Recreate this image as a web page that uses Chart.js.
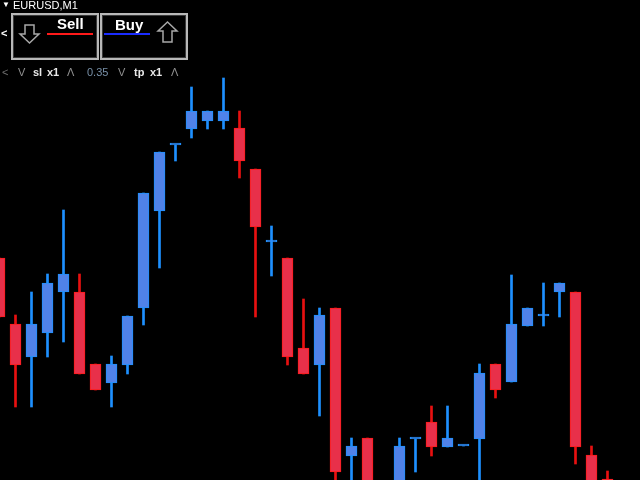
<!DOCTYPE html>
<html>
<head>
<meta charset="utf-8">
<script src="https://cdn.jsdelivr.net/npm/chart.js@4"></script>
<style>
  html, body { margin: 0; padding: 0; background: #000; }
  #wrap { position: relative; width: 640px; height: 480px; overflow: hidden; background: #000; }
  #c { position: absolute; left: 0; top: 0; }
  .t { position: absolute; font-family: "Liberation Sans", Arial, sans-serif; white-space: nowrap; line-height: 1; }
  .box { position: absolute; box-sizing: border-box; border: 2px solid #b8b8b8; box-shadow: inset 0 0 0 1px #3a3a3a; background: #000; }
</style>
</head>
<body>
<div id="wrap">
  <canvas id="c" width="640" height="480"></canvas>

  <div class="t" style="left:2px;top:1px;font-size:8px;color:#fff;">&#9660;</div>
  <div class="t" style="left:13px;top:0px;font-size:11px;color:#fff;">EURUSD,M1</div>

  <div class="t" style="left:1px;top:28px;font-size:11px;color:#fff;font-weight:bold;">&lt;</div>

  <div class="box" style="left:11px;top:13px;width:88px;height:47px;"></div>
  <div class="box" style="left:100px;top:13px;width:88px;height:47px;"></div>

  <svg style="position:absolute;left:0;top:0;" width="200" height="60">
    <polygon points="25,25 34,25 34,34 39,34 29.5,43 20,34 25,34" fill="none" stroke="#a8a8a8" stroke-width="1.5"/>
    <polygon points="167.5,22 177,31 172,31 172,42 163,42 163,31 158,31" fill="none" stroke="#a8a8a8" stroke-width="1.5"/>
    <line x1="47" y1="34" x2="93" y2="34" stroke="#ff1a1a" stroke-width="2"/>
    <line x1="104" y1="34" x2="150" y2="34" stroke="#1a2cff" stroke-width="2"/>
  </svg>
  <div class="t" style="left:57px;top:16px;font-size:15px;color:#fff;font-weight:bold;">Sell</div>
  <div class="t" style="left:115px;top:17px;font-size:15px;color:#fff;font-weight:bold;">Buy</div>

  <div class="t" style="left:2px;top:67px;font-size:11px;color:#707070;">&lt;</div>
  <div class="t" style="left:18px;top:67px;font-size:11px;color:#909090;">V</div>
  <div class="t" style="left:33px;top:67px;font-size:11px;color:#e8e8e8;font-weight:bold;">sl</div>
  <div class="t" style="left:47px;top:67px;font-size:11px;color:#e8e8e8;font-weight:bold;">x1</div>
  <div class="t" style="left:67px;top:67px;font-size:11px;color:#909090;">&Lambda;</div>
  <div class="t" style="left:87px;top:67px;font-size:11px;color:#7890a8;">0.35</div>
  <div class="t" style="left:118px;top:67px;font-size:11px;color:#909090;">V</div>
  <div class="t" style="left:134px;top:67px;font-size:11px;color:#e8e8e8;font-weight:bold;">tp</div>
  <div class="t" style="left:150px;top:67px;font-size:11px;color:#e8e8e8;font-weight:bold;">x1</div>
  <div class="t" style="left:171px;top:67px;font-size:11px;color:#909090;">&Lambda;</div>
</div>

<script>
// Candle index (bar number), oldest on the left
const bars   = [0,1,2,3,4,5,6,7,8,9,10,11,12,13,14,15,16,17,18,19,20,21,22,23,24,25,26,27,28,29,30,31,32,33,34,35,36,37,38];
const opens  = [1.08222,1.08156,1.08123,1.08147,1.08188,1.08188,1.08116,1.08097,1.08115,1.08172,1.08269,1.08335,1.08351,1.08359,1.08359,1.08352,1.08311,1.08238,1.08222,1.08132,1.08115,1.08172,1.08024,1.08042,null,1.07985,1.08041,1.08058,1.08033,1.08034,1.08041,1.08116,1.08098,1.08154,1.08164,1.08188,1.08188,1.08025,1.08001];
const highs  = [1.08222,1.08165,1.08188,1.08206,1.08270,1.08206,1.08116,1.08124,1.08164,1.08287,1.08328,1.08335,1.08393,1.08369,1.08402,1.08369,1.08311,1.08254,1.08222,1.08181,1.08172,1.08172,1.08042,1.08042,null,1.08042,1.08041,1.08074,1.08074,1.08034,1.08116,1.08116,1.08205,1.08172,1.08197,1.08197,1.08188,1.08034,1.08009];
const lows   = [1.08163,1.08073,1.08073,1.08123,1.08138,1.08106,1.08090,1.08073,1.08106,1.08155,1.08212,1.08319,1.08342,1.08351,1.08351,1.08302,1.08163,1.08204,1.08115,1.08106,1.08064,1.07990,1.07990,1.07985,null,1.07980,1.08008,1.08024,1.08033,1.08034,1.07990,1.08082,1.08098,1.08154,1.08154,1.08163,1.08016,1.07990,1.07990];
const closes = [1.08163,1.08115,1.08156,1.08197,1.08206,1.08106,1.08090,1.08116,1.08164,1.08287,1.08328,1.08335,1.08369,1.08369,1.08369,1.08319,1.08253,1.08238,1.08123,1.08106,1.08165,1.08008,1.08034,1.07985,null,1.08034,1.08041,1.08033,1.08042,1.08034,1.08107,1.08090,1.08156,1.08172,1.08164,1.08197,1.08033,1.07990,1.07990];

const UP_FILL = '#5082e8', UP_EDGE = '#1e90ff', UP_WICK = '#1e90ff';
const DN_FILL = '#e8304a', DN_EDGE = '#ff1a1a', DN_WICK = '#e81010';

const bodyData = [], wickData = [], bodyFill = [], bodyEdge = [], wickCol = [];
bars.forEach((k, i) => {
  if (opens[i] === null) return;
  const down = closes[i] < opens[i];
  bodyData.push({ x: k, y: [opens[i], closes[i]] });
  bodyFill.push(down ? DN_FILL : UP_FILL);
  bodyEdge.push(down ? DN_EDGE : UP_EDGE);
  wickData.push({ x: k, y: [lows[i], highs[i]] });
  wickCol.push(down ? DN_WICK : UP_WICK);
});

new Chart(document.getElementById('c'), {
  type: 'bar',
  data: {
    datasets: [
      {
        data: bodyData,
        backgroundColor: bodyFill,
        borderColor: bodyEdge,
        borderWidth: 1,
        borderSkipped: false,
        barThickness: 11,
        minBarLength: 2,
        grouped: false
      },
      {
        data: wickData,
        backgroundColor: wickCol,
        borderWidth: 0,
        barThickness: 2,
        grouped: false
      }
    ]
  },
  options: {
    responsive: false,
    animation: false,
    layout: { padding: 0 },
    plugins: { legend: { display: false }, tooltip: { enabled: false } },
    scales: {
      x: { type: 'linear', min: 0.03125, max: 40.03125, offset: false, display: false },
      y: { type: 'linear', min: 1.08000, max: 1.08480, display: false }
    }
  }
});
</script>
</body>
</html>
